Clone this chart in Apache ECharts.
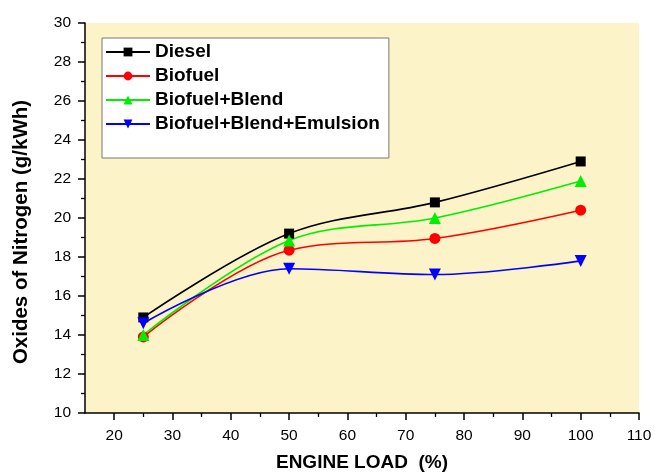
<!DOCTYPE html>
<html>
<head>
<meta charset="utf-8">
<script src="https://cdn.jsdelivr.net/npm/echarts@6/dist/echarts.min.js"></script>
<style>
  html, body { margin: 0; padding: 0; background: #ffffff; }
  #chart { width: 655px; height: 474px; }
</style>
</head>
<body>
<div id="chart"></div>
<script>
// Engine load (%) at which NOx emissions were measured
const loads = [25, 50, 75, 100];

// Oxides of nitrogen (g/kWh) per fuel
const diesel = [14.9, 19.2, 20.8, 22.9];
const biofuel = [13.9, 18.35, 18.95, 20.4];
const biofuelBlend = [14.0, 18.85, 20.0, 21.9];
const biofuelBlendEmulsion = [14.6, 17.4, 17.1, 17.8];

const seriesNames = ['Diesel', 'Biofuel', 'Biofuel+Blend', 'Biofuel+Blend+Emulsion'];

// Axis tick positions
const xMajorTicks = [20, 30, 40, 50, 60, 70, 80, 90, 100, 110];
const xMinorTicks = [25, 35, 45, 55, 65, 75, 85, 95, 105];
const yMajorTicks = [10, 12, 14, 16, 18, 20, 22, 24, 26, 28, 30];
const yMinorTicks = [11, 13, 15, 17, 19, 21, 23, 25, 27, 29];

const FONT = 'Liberation Sans, Arial, sans-serif';
const plotBg = '#FCF3C8';

function pairs(vals) {
  return loads.map((x, i) => [x, vals[i]]);
}

function lineSeries(name, vals, color, symbol, size) {
  return {
    name: name,
    type: 'line',
    data: pairs(vals),
    smooth: 0.35,
    symbol: symbol,
    symbolSize: size,
    showAllSymbol: true,
    lineStyle: { color: color, width: 1.6 },
    itemStyle: { color: color },
    emphasis: { disabled: true }
  };
}

const chart = echarts.init(document.getElementById('chart'), null, { renderer: 'canvas' });

const axisCommon = {
  type: 'value',
  axisLine: { show: true, lineStyle: { color: '#000', width: 1.5 } },
  splitLine: { show: false }
};

chart.setOption({
  animation: false,
  backgroundColor: '#ffffff',
  grid: {
    left: 85, right: 16, top: 23, bottom: 61,
    containLabel: false,
    outerBoundsMode: 'none',
    show: true, backgroundColor: plotBg, borderWidth: 0
  },
  legend: {
    orient: 'vertical',
    left: 102, top: 38,
    padding: [2, 9, 22, 3],
    backgroundColor: '#ffffff',
    borderColor: '#777777',
    borderWidth: 1,
    itemWidth: 44,
    itemHeight: 11,
    itemGap: 0,
    textStyle: { fontFamily: FONT, fontSize: 19, fontWeight: 'bold', color: '#000', lineHeight: 24 },
    data: seriesNames
  },
  graphic: [{
    type: 'text',
    x: 21, y: 232,
    rotation: Math.PI / 2,
    style: {
      text: 'Oxides of Nitrogen (g/kWh)',
      font: 'bold 20.5px ' + FONT,
      fill: '#000',
      align: 'center',
      verticalAlign: 'middle'
    }
  }],
  xAxis: [
    Object.assign({}, axisCommon, {
      min: 15, max: 110,
      position: 'bottom',
      name: 'ENGINE LOAD  (%)',
      nameLocation: 'middle',
      nameGap: 40,
      nameTextStyle: { fontFamily: FONT, fontSize: 19, fontWeight: 'bold', color: '#000' },
      axisTick: { show: true, inside: false, length: 7, lineStyle: { color: '#000', width: 1.5 }, customValues: xMajorTicks },
      axisLabel: { show: true, fontFamily: FONT, fontSize: 15.5, color: '#000', margin: 15, customValues: xMajorTicks }
    }),
    Object.assign({}, axisCommon, {
      min: 15, max: 110,
      position: 'bottom',
      axisLine: { show: false },
      axisTick: { show: true, inside: false, length: 4, lineStyle: { color: '#000', width: 1.3 }, customValues: xMinorTicks },
      axisLabel: { show: false }
    })
  ],
  yAxis: [
    Object.assign({}, axisCommon, {
      min: 10, max: 30,
      position: 'left',
      axisTick: { show: true, inside: false, length: 7, lineStyle: { color: '#000', width: 1.5 }, customValues: yMajorTicks },
      axisLabel: { show: true, fontFamily: FONT, fontSize: 15.5, color: '#000', margin: 14, customValues: yMajorTicks }
    }),
    Object.assign({}, axisCommon, {
      min: 10, max: 30,
      position: 'left',
      axisLine: { show: false },
      axisTick: { show: true, inside: false, length: 4, lineStyle: { color: '#000', width: 1.3 }, customValues: yMinorTicks },
      axisLabel: { show: false }
    })
  ],
  series: [
    lineSeries('Diesel', diesel, '#000000', 'rect', 10),
    lineSeries('Biofuel', biofuel, '#FF0000', 'circle', 11),
    lineSeries('Biofuel+Blend', biofuelBlend, '#00EE00', 'triangle', 12),
    Object.assign(lineSeries('Biofuel+Blend+Emulsion', biofuelBlendEmulsion, '#0000FF', 'triangle', 12), { symbolRotate: 180 })
  ]
});
</script>
</body>
</html>
